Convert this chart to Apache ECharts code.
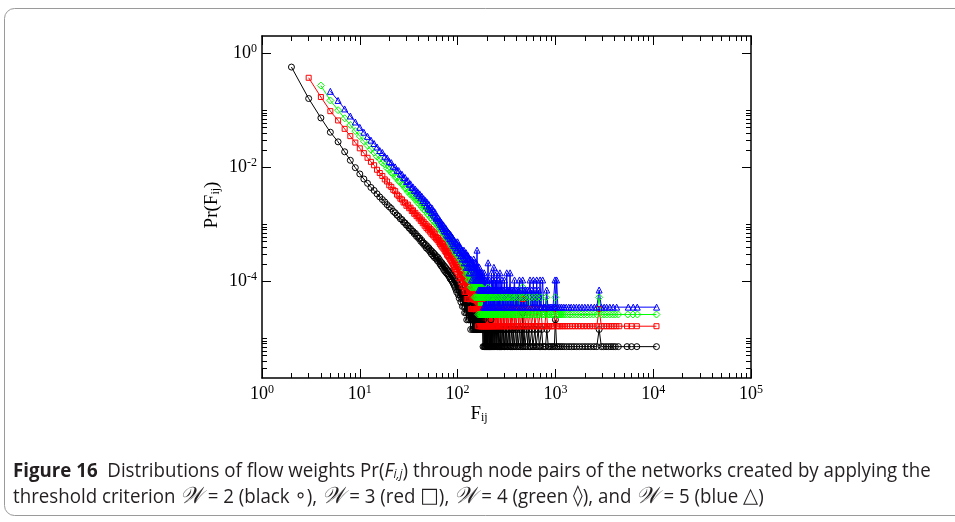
<!DOCTYPE html>
<html><head><meta charset="utf-8">
<script src="https://cdn.jsdelivr.net/npm/echarts@6/dist/echarts.min.js"></script>
<style>html,body{margin:0;padding:0;background:#fff}#c{width:955px;height:522px}</style>
</head><body><div id="c"></div>
<script>
// ---------- data ----------
const xMajorTicks = [1, 10, 100, 1000, 10000, 100000];
const yMajorTicks = [1e-4, 1e-2, 1];
const xMinorTicks = [2,3,4,5,6,7,8,9,20,30,40,50,60,70,80,90,200,300,400,500,600,700,800,900,2000,3000,4000,5000,6000,7000,8000,9000,20000,30000,40000,50000,60000,70000,80000,90000];
const yMinorTicks = [3e-6,4e-6,5e-6,6e-6,7e-6,8e-6,9e-6,1e-5,2e-4,3e-4,4e-4,5e-4,6e-4,7e-4,8e-4,9e-4,1e-3,2e-2,3e-2,4e-2,5e-2,6e-2,7e-2,8e-2,9e-2,1e-1];

// W = 2 (black), first F = 2
const blackStart = 2;
const blackHead = [0.57,0.16,0.073,0.041,0.0278,0.0186,0.0132,0.0098,0.0076,0.0062,0.0052,0.0044,0.0039,0.0034,0.003,0.0027,0.00245,0.0022,0.00202,0.00188,0.00168,0.00158,0.00144,0.00137,0.00124,0.0012,0.00109,0.00105,0.00096,0.00094,0.00085,0.00084,0.00076,0.00075,0.00068,0.00069,0.00061,0.00062,0.00056,0.00057,0.0005,0.00052,0.00046,0.00047,0.00042,0.00044,0.00038,0.00041,0.00036,0.00038,0.00033,0.00035,0.0003,0.00033,0.00028,0.00031,0.00026,0.00029,0.00025];
const blackTail = [[61,2.7e-4],[62,2.3e-4],[63,2.6e-4],[64,2.2e-4],[65,2.4e-4],[66,2.0e-4],[67,2.2e-4],[68,1.85e-4],[69,2.1e-4],[70,1.75e-4],[71,1.95e-4],[72,1.6e-4],[73,1.85e-4],[74,1.5e-4],[75,1.75e-4],[76,1.42e-4],[77,1.65e-4],[78,1.35e-4],[79,1.55e-4],[80,1.28e-4],[81,1.5e-4],[82,1.2e-4],[83,1.42e-4],[84,1.1e-4],[85,1.35e-4],[86,1.05e-4],[87,1.28e-4],[88,9.9e-5],[89,1.2e-4],[90,9.2e-5],[91,1.14e-4],[92,8.5e-5],[93,1.1e-4],[94,7.8e-5],[95,1.05e-4],[96,7.1e-5],[97,9.9e-5],[98,6.4e-5],[99,9.2e-5],[100,7.1e-5],[101,9.2e-5],[102,5.7e-5],[103,8.5e-5],[104,5.0e-5],[105,7.8e-5],[106,5.7e-5],[107,7.1e-5],[108,4.3e-5],[109,7.1e-5],[110,5.0e-5],[111,6.4e-5],[112,3.6e-5],[113,6.4e-5],[114,4.3e-5],[115,5.7e-5],[116,3.6e-5],[117,5.7e-5],[118,2.8e-5],[119,5.0e-5],[120,3.6e-5],[121,5.0e-5],[122,2.8e-5],[123,4.3e-5],[124,2.1e-5],[125,4.3e-5],[126,3.6e-5],[127,2.8e-5],[128,4.3e-5],[129,2.1e-5],[130,3.6e-5],[131,2.8e-5],[132,3.6e-5],[133,2.1e-5],[134,3.6e-5],[135,2.8e-5],[136,1.42e-5],[137,3.6e-5],[138,2.1e-5],[139,2.8e-5],[140,2.1e-5],[141,3.6e-5],[142,1.42e-5],[143,2.8e-5],[144,2.1e-5],[145,1.42e-5],[146,2.8e-5],[147,2.1e-5],[148,1.42e-5],[149,2.8e-5],[150,2.1e-5],[151,1.42e-5],[152,2.8e-5],[153,1.42e-5],[154,2.1e-5],[155,1.42e-5],[156,2.1e-5],[157,1.42e-5],[158,2.8e-5],[159,1.42e-5],[160,2.1e-5],[161,1.42e-5],[162,2.1e-5],[163,1.42e-5],[165,2.1e-5],[166,1.42e-5],[167,2.1e-5],[168,1.42e-5],[170,2.1e-5],[171,1.42e-5],[173,1.42e-5],[174,2.1e-5],[175,1.42e-5],[177,1.42e-5],[178,2.1e-5],[180,1.42e-5],[182,7.1e-6],[183,1.42e-5],[185,2.1e-5],[186,7.1e-6],[188,1.42e-5],[189,7.1e-6],[191,1.42e-5],[192,7.1e-6],
[194,1.42e-5],[195,7.1e-6],[197,1.42e-5],[198,7.1e-6],[200,1.42e-5],[201,7.1e-6],[203,1.42e-5],[204,7.1e-6],[206,7.1e-6],[207,1.42e-5],[209,7.1e-6],[211,1.42e-5],[212,7.1e-6],[214,7.1e-6],[216,1.42e-5],[217,7.1e-6],[219,2.1e-5],[221,7.1e-6],[223,1.42e-5],[225,7.1e-6],[227,1.42e-5],[229,7.1e-6],[231,7.1e-6],[233,1.42e-5],[235,7.1e-6],[238,1.42e-5],[240,7.1e-6],[242,7.1e-6],[245,1.42e-5],[247,7.1e-6],[250,1.42e-5],[252,7.1e-6],[255,7.1e-6],[257,1.42e-5],[260,7.1e-6],[263,1.42e-5],[266,7.1e-6],[269,7.1e-6],[272,1.42e-5],[275,7.1e-6],[278,1.42e-5],[281,7.1e-6],[285,7.1e-6],[288,1.42e-5],[292,7.1e-6],[296,1.42e-5],[300,7.1e-6],[304,7.1e-6],[308,1.42e-5],[312,7.1e-6],[316,1.42e-5],[321,7.1e-6],[326,7.1e-6],[331,1.42e-5],[336,7.1e-6],[341,1.42e-5],[347,7.1e-6],[353,7.1e-6],[359,1.42e-5],[365,7.1e-6],[371,1.42e-5],[378,7.1e-6],[385,7.1e-6],[392,1.42e-5],[399,7.1e-6],[407,1.42e-5],[415,7.1e-6],[423,7.1e-6],[431,1.42e-5],[440,7.1e-6],[449,1.42e-5],[458,7.1e-6],[463,2.8e-5],[468,7.1e-6],[478,1.42e-5],[488,7.1e-6],[499,7.1e-6],[510,1.42e-5],[522,7.1e-6],[534,1.42e-5],[547,7.1e-6],[560,7.1e-6],[574,1.42e-5],[588,7.1e-6],[603,7.1e-6],[618,1.42e-5],[634,7.1e-6],[650,7.1e-6],[667,1.42e-5],[685,7.1e-6],[704,7.1e-6],[724,1.42e-5],[745,7.1e-6],[768,7.1e-6],[792,7.1e-6],[818,1.42e-5],[846,7.1e-6],[876,7.1e-6],[908,7.1e-6],[942,7.1e-6],[975,7.1e-6],[1000,2.1e-5],[1030,7.1e-6],[1070,7.1e-6],[1120,7.1e-6],[1170,7.1e-6],[1230,7.1e-6],[1300,7.1e-6],[1380,7.1e-6],[1460,7.1e-6],[1550,7.1e-6],[1650,7.1e-6],[1760,7.1e-6],[1880,7.1e-6],[2010,7.1e-6],[2150,7.1e-6],[2300,7.1e-6],[2480,7.1e-6],[2650,7.1e-6],[2800,1.42e-5],[2950,7.1e-6],[3100,7.1e-6],[3300,7.1e-6],[3500,7.1e-6],[3700,7.1e-6],[3900,7.1e-6],[4100,7.1e-6],[4400,7.1e-6],[5400,7.1e-6],[6000,7.1e-6],[6800,7.1e-6],[10800,7.1e-6]];

// W = 3 (red), first F = 3
const redStart = 3;
const redHead = [0.37,0.17,0.096,0.066,0.047,0.035,0.027,0.0214,0.0176,0.0146,0.0124,0.0108,0.009,0.0079,0.007,0.0061,0.0056,0.0048,0.0045,0.004,0.0038,0.0033,0.0031,0.0028,0.0027,0.0024,0.0024,0.0021,0.0022,0.0019,0.00195,0.0017,0.00175,0.00152,0.00158,0.00138,0.00143,0.00126,0.00132,0.00114,0.0012,0.00104,0.0011,0.00094,0.00101,0.00086,0.00094,0.0008,0.00088,0.00074,0.00082,0.00068,0.00077,0.00064,0.00072,0.0006,0.00068,0.00056];
const redTail = [[61,5.9e-4],[62,5.3e-4],[63,5.7e-4],[64,4.9e-4],[65,5.3e-4],[66,4.5e-4],[67,5.0e-4],[68,4.2e-4],[69,4.7e-4],[70,3.9e-4],[71,4.5e-4],[72,3.7e-4],[73,4.1e-4],[74,3.4e-4],[75,3.9e-4],[76,3.2e-4],[77,3.6e-4],[78,2.9e-4],[79,3.4e-4],[80,2.75e-4],[81,3.3e-4],[82,2.6e-4],[83,3.1e-4],[84,2.4e-4],[85,2.9e-4],[86,2.27e-4],[87,2.75e-4],[88,2.1e-4],[89,2.6e-4],[90,1.94e-4],[91,2.43e-4],[92,1.78e-4],[93,2.27e-4],[94,1.62e-4],[95,2.1e-4],[96,1.62e-4],[97,1.94e-4],[98,1.46e-4],[99,1.94e-4],[100,1.62e-4],[101,1.78e-4],[102,1.3e-4],[103,1.78e-4],[104,1.13e-4],[105,1.62e-4],[106,1.3e-4],[107,1.46e-4],[108,9.72e-5],[109,1.46e-4],[110,1.13e-4],[111,1.3e-4],[112,8.1e-5],[113,1.3e-4],[114,9.72e-5],[115,1.13e-4],[116,8.1e-5],[117,1.13e-4],[118,6.48e-5],[119,1.13e-4],[120,8.1e-5],[121,9.72e-5],[122,6.48e-5],[123,9.72e-5],[124,4.86e-5],[125,9.72e-5],[126,6.48e-5],[127,8.1e-5],[128,4.86e-5],[129,8.1e-5],[130,6.48e-5],[131,8.1e-5],[132,4.86e-5],[133,6.48e-5],[134,8.1e-5],[135,4.86e-5],[136,6.48e-5],[137,3.24e-5],[138,6.48e-5],[139,4.86e-5],[140,6.48e-5],[141,3.24e-5],[142,6.48e-5],[143,4.86e-5],[144,3.24e-5],[145,6.48e-5],[146,4.86e-5],[147,3.24e-5],[148,4.86e-5],[149,6.48e-5],[150,3.24e-5],[151,4.86e-5],[152,3.24e-5],[153,4.86e-5],[154,3.24e-5],[155,6.48e-5],[156,3.24e-5],[157,4.86e-5],[158,3.24e-5],[159,4.86e-5],[160,3.24e-5],[161,4.86e-5],[162,1.62e-5],[163,4.86e-5],[164,3.24e-5],[165,4.86e-5],[166,3.24e-5],[167,1.62e-5],[168,3.24e-5],[169,4.86e-5],[170,3.24e-5],[171,1.62e-5],[172,3.24e-5],[173,4.86e-5],[174,1.62e-5],[175,3.24e-5],[176,1.62e-5],[177,3.24e-5],[178,1.62e-5],[179,3.24e-5],[180,4.86e-5],[181,1.62e-5],[182,3.24e-5],[183,1.62e-5],[184,3.24e-5],[185,1.62e-5],
[187,3.24e-5],[188,1.62e-5],[190,3.24e-5],[191,1.62e-5],[193,1.62e-5],[194,3.24e-5],[196,1.62e-5],[197,3.24e-5],[199,1.62e-5],[201,3.24e-5],[202,1.62e-5],[204,1.62e-5],[205,3.24e-5],[207,1.62e-5],[209,3.24e-5],[211,1.62e-5],[213,1.62e-5],[215,3.24e-5],[217,1.62e-5],[219,3.24e-5],[221,1.62e-5],[224,1.62e-5],[226,3.24e-5],[228,1.62e-5],[231,3.24e-5],[233,1.62e-5],[236,1.62e-5],[238,3.24e-5],[241,1.62e-5],[244,3.24e-5],[247,1.62e-5],[250,1.62e-5],[253,3.24e-5],[256,1.62e-5],[259,3.24e-5],[262,1.62e-5],[266,1.62e-5],[269,3.24e-5],[273,1.62e-5],[277,3.24e-5],[281,1.62e-5],[285,1.62e-5],[289,3.24e-5],[293,1.62e-5],[298,3.24e-5],[302,1.62e-5],[307,1.62e-5],[312,3.24e-5],[317,1.62e-5],[322,3.24e-5],[328,1.62e-5],[334,1.62e-5],[340,3.24e-5],[346,1.62e-5],[352,3.24e-5],[359,1.62e-5],[366,1.62e-5],[373,3.24e-5],[380,1.62e-5],[388,3.24e-5],[396,1.62e-5],[404,1.62e-5],[412,3.24e-5],[421,1.62e-5],[430,3.24e-5],[439,1.62e-5],[449,1.62e-5],[459,3.24e-5],[463,4.86e-5],[470,1.62e-5],[481,3.24e-5],[492,1.62e-5],[504,1.62e-5],[516,3.24e-5],[528,1.62e-5],[541,1.62e-5],[555,3.24e-5],[569,1.62e-5],[584,1.62e-5],[600,3.24e-5],[616,1.62e-5],[633,1.62e-5],[651,3.24e-5],[670,1.62e-5],[690,1.62e-5],[711,3.24e-5],[733,1.62e-5],[756,1.62e-5],[780,1.62e-5],[806,3.24e-5],[833,1.62e-5],[862,1.62e-5],[893,1.62e-5],[926,1.62e-5],[960,1.62e-5],[1000,3.24e-5],[1040,1.62e-5],[1080,1.62e-5],[1130,1.62e-5],[1190,1.62e-5],[1250,1.62e-5],[1320,1.62e-5],[1400,1.62e-5],[1490,1.62e-5],[1590,1.62e-5],[1700,1.62e-5],[1820,1.62e-5],[1950,1.62e-5],[2100,1.62e-5],[2260,1.62e-5],[2440,1.62e-5],[2650,1.62e-5],[2800,3.24e-5],[2950,1.62e-5],[3150,1.62e-5],[3350,1.62e-5],[3550,1.62e-5],[3750,1.62e-5],[3950,1.62e-5],[4200,1.62e-5],[4500,1.62e-5],[5400,1.62e-5],[6000,1.62e-5],[6800,1.62e-5],[10800,1.62e-5]];

// W = 4 (green), first F = 4
const greenStart = 4;
const greenHead = [0.27,0.148,0.1,0.072,0.055,0.043,0.035,0.0285,0.024,0.0203,0.018,0.0153,0.014,0.012,0.0112,0.0096,0.0091,0.008,0.0077,0.0067,0.0065,0.0057,0.0056,0.005,0.0049,0.0043,0.0042,0.0037,0.0038,0.0033,0.0034,0.003,0.0031,0.0027,0.0028,0.0024,0.0026,0.0022,0.0024,0.002,0.0022,0.0018,0.002,0.0017,0.0019,0.0015,0.0017,0.00145,0.0016,0.0013,0.0015,0.0012,0.0014,0.00112,0.0013,0.00104,0.0012];
const greenTail = [[61,1.0e-3],[62,1.1e-3],[63,9.2e-4],[64,1.0e-3],[65,8.6e-4],[66,9.5e-4],[67,8.0e-4],[68,8.9e-4],[69,7.4e-4],[70,8.4e-4],[71,7.0e-4],[72,7.9e-4],[73,6.5e-4],[74,7.4e-4],[75,6.1e-4],[76,7.0e-4],[77,5.7e-4],[78,6.6e-4],[79,5.4e-4],[80,6.2e-4],[81,5.2e-4],[82,5.8e-4],[83,4.7e-4],[84,5.5e-4],[85,4.4e-4],[86,5.2e-4],[87,4.16e-4],[88,4.94e-4],[89,3.9e-4],[90,4.68e-4],[91,3.64e-4],[92,4.42e-4],[93,3.38e-4],[94,4.16e-4],[95,3.12e-4],[96,3.9e-4],[97,3.12e-4],[98,3.64e-4],[99,2.86e-4],[100,3.9e-4],[101,3.12e-4],[102,3.64e-4],[103,2.6e-4],[104,3.38e-4],[105,2.6e-4],[106,3.12e-4],[107,2.34e-4],[108,3.12e-4],[109,2.34e-4],[110,2.86e-4],[111,2.08e-4],[112,2.86e-4],[113,2.08e-4],[114,2.6e-4],[115,1.82e-4],[116,2.6e-4],[117,1.82e-4],[118,2.34e-4],[119,1.56e-4],[120,2.34e-4],[121,1.82e-4],[122,2.08e-4],[123,1.3e-4],[124,2.08e-4],[125,1.56e-4],[126,1.82e-4],[127,1.3e-4],[128,1.82e-4],[129,1.04e-4],[130,1.56e-4],[131,1.3e-4],[132,1.82e-4],[133,1.04e-4],[134,1.56e-4],[135,1.3e-4],[136,7.8e-5],[137,1.56e-4],[138,1.04e-4],[139,1.3e-4],[140,7.8e-5],[141,1.3e-4],[142,1.04e-4],[143,1.3e-4],[144,7.8e-5],[145,1.04e-4],[146,1.3e-4],[147,7.8e-5],[148,1.04e-4],[149,5.2e-5],[150,1.04e-4],[151,7.8e-5],[152,1.04e-4],[153,5.2e-5],[154,7.8e-5],[155,1.04e-4],[156,5.2e-5],[157,7.8e-5],[158,1.04e-4],[159,5.2e-5],[160,7.8e-5],[161,5.2e-5],[162,7.8e-5],[163,2.6e-5],[164,7.8e-5],[165,5.2e-5],[166,7.8e-5],[167,5.2e-5],[168,2.6e-5],[169,7.8e-5],[170,5.2e-5],[171,2.6e-5],[172,5.2e-5],[173,7.8e-5],[174,2.6e-5],[175,5.2e-5],[176,2.6e-5],[177,5.2e-5],[178,7.8e-5],[179,2.6e-5],[180,5.2e-5],
[182,2.6e-5],[183,5.2e-5],[185,2.6e-5],[186,5.2e-5],[188,2.6e-5],[189,5.2e-5],[191,2.6e-5],[193,5.2e-5],[194,2.6e-5],[196,2.6e-5],[197,5.2e-5],[199,2.6e-5],[201,5.2e-5],[203,2.6e-5],[205,7.8e-5],[207,2.6e-5],[209,5.2e-5],[211,2.6e-5],[213,2.6e-5],[215,5.2e-5],[217,2.6e-5],[220,5.2e-5],[222,2.6e-5],[225,2.6e-5],[227,5.2e-5],[230,2.6e-5],[232,5.2e-5],[235,2.6e-5],[238,2.6e-5],[241,5.2e-5],[244,2.6e-5],[247,5.2e-5],[250,2.6e-5],[253,2.6e-5],[256,5.2e-5],[260,2.6e-5],[263,5.2e-5],[267,2.6e-5],[271,2.6e-5],[275,5.2e-5],[279,2.6e-5],[283,5.2e-5],[287,2.6e-5],[292,2.6e-5],[296,5.2e-5],[301,2.6e-5],[306,5.2e-5],[311,2.6e-5],[316,2.6e-5],[321,5.2e-5],[327,2.6e-5],[333,5.2e-5],[339,2.6e-5],[345,2.6e-5],[351,5.2e-5],[358,2.6e-5],[365,5.2e-5],[372,2.6e-5],[379,2.6e-5],[387,5.2e-5],[395,2.6e-5],[403,2.6e-5],[411,5.2e-5],[420,2.6e-5],[429,5.2e-5],[438,2.6e-5],[448,2.6e-5],[458,5.2e-5],[463,7.8e-5],[469,2.6e-5],[480,5.2e-5],[491,2.6e-5],[503,2.6e-5],[515,5.2e-5],[527,2.6e-5],[540,2.6e-5],[554,5.2e-5],[568,2.6e-5],[583,2.6e-5],[598,5.2e-5],[614,2.6e-5],[631,2.6e-5],[649,5.2e-5],[668,2.6e-5],[688,2.6e-5],[709,5.2e-5],[731,2.6e-5],[754,2.6e-5],[778,2.6e-5],[804,5.2e-5],[831,2.6e-5],[860,2.6e-5],[891,2.6e-5],[924,2.6e-5],[960,2.6e-5],[1000,5.2e-5],[1040,2.6e-5],[1090,2.6e-5],[1140,2.6e-5],[1200,2.6e-5],[1260,2.6e-5],[1330,2.6e-5],[1410,2.6e-5],[1500,2.6e-5],[1600,2.6e-5],[1710,2.6e-5],[1830,2.6e-5],[1960,2.6e-5],[2110,2.6e-5],[2270,2.6e-5],[2450,2.6e-5],[2650,2.6e-5],[2800,5.2e-5],[2950,2.6e-5],[3150,2.6e-5],[3350,2.6e-5],[3600,2.6e-5],[3850,2.6e-5],[4100,2.6e-5],[4400,2.6e-5],[5500,2.6e-5],[6200,2.6e-5],[6900,2.6e-5],[10800,2.6e-5]];

// W = 5 (blue), first F = 5
const blueStart = 5;
const blueHead = [0.214,0.148,0.105,0.079,0.062,0.05,0.041,0.0347,0.0298,0.026,0.0226,0.0196,0.0181,0.0155,0.0145,0.0126,0.012,0.0104,0.0101,0.0088,0.0087,0.0076,0.0075,0.0065,0.0066,0.0056,0.0058,0.005,0.0051,0.0044,0.0045,0.0039,0.0041,0.0035,0.0037,0.0032,0.0034,0.0029,0.0031,0.0026,0.0028,0.0024,0.0026,0.0021,0.0024,0.0019,0.0022,0.0018,0.002,0.0016,0.0019,0.0015,0.0017,0.0014,0.0016,0.0013];
const blueTail = [[61,1.24e-3],[62,1.36e-3],[63,1.15e-3],[64,1.26e-3],[65,1.05e-3],[66,1.16e-3],[67,9.8e-4],[68,1.08e-3],[69,9.1e-4],[70,1.01e-3],[71,8.4e-4],[72,9.5e-4],[73,7.7e-4],[74,8.8e-4],[75,7.35e-4],[76,8.4e-4],[77,6.65e-4],[78,7.7e-4],[79,6.3e-4],[80,7.35e-4],[81,5.95e-4],[82,7.0e-4],[83,5.6e-4],[84,6.65e-4],[85,5.25e-4],[86,6.3e-4],[87,4.9e-4],[88,5.95e-4],[89,4.55e-4],[90,5.6e-4],[91,4.2e-4],[92,5.25e-4],[93,4.2e-4],[94,4.9e-4],[95,3.85e-4],[96,4.9e-4],[97,3.5e-4],[98,4.55e-4],[99,3.5e-4],[100,4.9e-4],[101,3.85e-4],[102,4.2e-4],[103,3.15e-4],[104,4.2e-4],[105,3.15e-4],[106,3.85e-4],[107,2.8e-4],[108,3.85e-4],[109,2.8e-4],[110,3.5e-4],[111,2.45e-4],[112,3.5e-4],[113,2.8e-4],[114,3.15e-4],[115,2.45e-4],[116,3.5e-4],[117,2.1e-4],[118,3.15e-4],[119,2.45e-4],[120,2.8e-4],[121,2.1e-4],[122,3.15e-4],[123,1.75e-4],[124,2.8e-4],[125,2.1e-4],[126,2.45e-4],[127,1.75e-4],[128,2.8e-4],[129,1.75e-4],[130,2.45e-4],[131,1.4e-4],[132,2.45e-4],[133,1.75e-4],[134,2.1e-4],[135,1.4e-4],[136,2.45e-4],[137,1.75e-4],[138,2.1e-4],[139,1.05e-4],[140,2.1e-4],[141,1.75e-4],[142,1.4e-4],[143,2.1e-4],[144,1.05e-4],[145,1.75e-4],[146,2.45e-4],[147,1.4e-4],[148,1.75e-4],[149,1.05e-4],[150,2.1e-4],[151,1.4e-4],[152,1.75e-4],[153,1.05e-4],[154,1.4e-4],[155,2.1e-4],[156,1.05e-4],[157,1.75e-4],[158,3.5e-4],[159,1.05e-4],[160,1.4e-4],[161,1.75e-4],[162,1.05e-4],[163,1.4e-4],[164,7e-5],[165,1.4e-4],[166,1.05e-4],[167,1.75e-4],[168,7e-5],[169,1.4e-4],[170,1.05e-4],[171,7e-5],[172,1.4e-4],[173,1.05e-4],[174,7e-5],[175,1.4e-4],[176,1.05e-4],[177,7e-5],[178,1.05e-4],[179,1.4e-4],[180,7e-5],[181,1.05e-4],[182,7e-5],[183,1.05e-4],[184,3.5e-5],[185,1.05e-4],[186,7e-5],[187,1.4e-4],[188,7e-5],[189,3.5e-5],[190,1.05e-4],
[192,7e-5],[193,3.5e-5],[195,1.05e-4],[196,3.5e-5],[198,7e-5],[199,3.5e-5],[201,7e-5],[203,1.05e-4],[205,2.1e-4],[206,3.5e-5],[208,7e-5],[210,3.5e-5],[212,1.05e-4],[214,7e-5],[216,3.5e-5],[218,7e-5],[220,3.5e-5],[222,1.4e-4],[224,7e-5],[226,3.5e-5],[228,1.05e-4],[230,7e-5],[232,3.5e-5],[235,1.75e-4],[237,7e-5],[239,3.5e-5],[242,7e-5],[244,1.05e-4],[247,3.5e-5],[249,7e-5],[252,1.4e-4],[254,3.5e-5],[257,7e-5],[260,1.05e-4],[262,3.5e-5],[265,7e-5],[268,3.5e-5],[271,1.4e-4],[274,7e-5],[277,3.5e-5],[280,7e-5],[284,1.05e-4],[287,3.5e-5],[290,7e-5],[294,3.5e-5],[298,7e-5],[301,1.05e-4],[305,3.5e-5],[309,7e-5],[313,3.5e-5],[318,1.4e-4],[322,7e-5],[326,3.5e-5],[331,7e-5],[336,3.5e-5],[340,7e-5],[344,1.4e-4],[349,3.5e-5],[354,7e-5],[360,3.5e-5],[365,7e-5],[371,3.5e-5],[376,7e-5],[382,1.05e-4],[388,3.5e-5],[394,7e-5],[401,3.5e-5],[408,7e-5],[415,3.5e-5],[422,7e-5],[429,1.05e-4],[437,3.5e-5],[445,7e-5],[453,3.5e-5],[463,1.05e-4],[470,3.5e-5],[479,7e-5],[488,3.5e-5],[497,7e-5],[507,3.5e-5],[517,7e-5],[528,3.5e-5],[539,7e-5],[550,1.05e-4],[562,3.5e-5],[574,7e-5],[586,3.5e-5],[595,1.05e-4],[605,3.5e-5],[619,7e-5],[633,3.5e-5],[644,1.05e-4],[655,3.5e-5],[670,7e-5],[685,3.5e-5],[697,1.05e-4],[710,3.5e-5],[725,3.5e-5],[741,1.05e-4],[757,3.5e-5],[775,3.5e-5],[795,3.5e-5],[815,7e-5],[838,3.5e-5],[862,3.5e-5],[888,3.5e-5],[915,3.5e-5],[945,3.5e-5],[975,3.5e-5],[991,1.05e-4],[1010,3.5e-5],[1030,1.05e-4],[1060,3.5e-5],[1110,3.5e-5],[1160,3.5e-5],[1220,3.5e-5],[1290,3.5e-5],[1370,3.5e-5],[1450,3.5e-5],[1540,3.5e-5],[1640,3.5e-5],[1750,3.5e-5],[1870,3.5e-5],[2000,3.5e-5],[2150,3.5e-5],[2320,3.5e-5],[2500,3.5e-5],[2650,3.5e-5],[2800,7e-5],[2950,3.5e-5],[3150,3.5e-5],[3340,3.5e-5],[3600,3.5e-5],[3900,3.5e-5],[4230,3.5e-5],[5560,3.5e-5],[6250,3.5e-5],[6870,3.5e-5],[10830,3.5e-5]];

// ---------- chart ----------
function build(start, head, tail) { return head.map((v, i) => [start + i, v]).concat(tail); }
const serifFont = 'Liberation Serif';
const richLabel = {
  b: { fontFamily: serifFont, fontSize: 18, color: '#000', lineHeight: 20 },
  s: { fontFamily: serifFont, fontSize: 12, color: '#000', verticalAlign: 'top', lineHeight: 12 }
};
function powLabel(v) { const e = Math.round(Math.log10(v)); return '{b|10}{s|' + e + '}'; }

const frameLine = { show: true, onZero: false, lineStyle: { color: '#000', width: 1.5 } };
const noLine = { show: false, onZero: false };
function xAxisDef(pos, ticks, len, showLine, labels) {
  return {
    type: 'log', logBase: 10, min: 1, max: 100000, position: pos,
    axisLine: showLine ? frameLine : noLine,
    axisTick: { show: true, inside: true, length: len, customValues: ticks, lineStyle: { color: '#000', width: 1 } },
    axisLabel: labels ? { show: true, customValues: ticks, margin: 6, formatter: powLabel, rich: richLabel } : { show: false },
    splitLine: { show: false }, minorTick: { show: false }, minorSplitLine: { show: false }
  };
}
function yAxisDef(pos, ticks, len, showLine, labels) {
  return {
    type: 'log', logBase: 10, min: 2e-6, max: 2, position: pos,
    axisLine: showLine ? frameLine : noLine,
    axisTick: { show: true, inside: true, length: len, customValues: ticks, lineStyle: { color: '#000', width: 1 } },
    axisLabel: labels ? { show: true, customValues: ticks, margin: 5, formatter: powLabel, rich: richLabel } : { show: false },
    splitLine: { show: false }, minorTick: { show: false }, minorSplitLine: { show: false }
  };
}
function seriesDef(name, data, color, symbol, size) {
  return {
    name, type: 'line', data, xAxisIndex: 0, yAxisIndex: 0,
    symbol, symbolSize: size, showSymbol: true, showAllSymbol: true,
    lineStyle: { color, width: 1 },
    itemStyle: { color: 'rgba(255,255,255,0)', borderColor: color, borderWidth: 1 },
    emphasis: { disabled: true }, silent: true, animation: false, z: 2
  };
}

const cap1 = '{b|Figure 16}  Distributions of flow weights Pr({i|F}{si|i,j}) through node pairs of the networks created by applying the';
const cap2 = 'threshold criterion {w|𝒲} = 2 (black {y|∘}), {w|𝒲} = 3 (red {y|□}), {w|𝒲} = 4 (green {y|◊}), and {w|𝒲} = 5 (blue {y|△})';
const capFont = 20;
const capRich = {
  b: { fontFamily: 'Open Sans', fontWeight: 'bold', fontSize: capFont, fill: '#231f20' },
  i: { fontFamily: 'Open Sans', fontStyle: 'italic', fontSize: capFont, fill: '#231f20' },
  si: { fontFamily: 'Open Sans', fontStyle: 'italic', fontSize: 13, fill: '#231f20', verticalAlign: 'bottom', lineHeight: 13 },
  w: { fontFamily: 'DejaVu Serif', fontStyle: 'italic', fontSize: 23, fill: '#231f20' },
  y: { fontFamily: 'DejaVu Sans', fontSize: 21, fill: '#231f20' }
};

const chart = echarts.init(document.getElementById('c'), null, { renderer: 'canvas' });
chart.setOption({
  animation: false,
  backgroundColor: '#fff',
  grid: { left: 262, top: 36, width: 489, height: 342, containLabel: false },
  xAxis: [
    xAxisDef('bottom', xMajorTicks, 9, true, true),
    xAxisDef('bottom', xMinorTicks, 5, false, false),
    xAxisDef('top', xMajorTicks, 9, true, false),
    xAxisDef('top', xMinorTicks, 5, false, false)
  ],
  yAxis: [
    yAxisDef('left', yMajorTicks, 9, true, true),
    yAxisDef('left', yMinorTicks, 5, false, false),
    yAxisDef('right', yMajorTicks, 9, true, false),
    yAxisDef('right', yMinorTicks, 5, false, false)
  ],
  series: [
    seriesDef('W=2', build(blackStart, blackHead, blackTail), '#000000', 'circle', 6),
    seriesDef('W=3', build(redStart, redHead, redTail), '#ff0000', 'rect', 5),
    seriesDef('W=4', build(greenStart, greenHead, greenTail), '#00ff00', 'diamond', 7),
    seriesDef('W=5', build(blueStart, blueHead, blueTail), '#0000ff', 'triangle', 6)
  ],
  graphic: [
    { type: 'rect', silent: true, shape: { x: 4.5, y: 8.5, width: 990, height: 507, r: 10 }, style: { fill: 'none', stroke: '#9a9a9a', lineWidth: 1 } },
    { type: 'text', silent: true, x: 479, y: 414, style: { text: '{m|F}{s|ij}', align: 'center', verticalAlign: 'middle',
      rich: { m: { fontFamily: serifFont, fontSize: 19, fill: '#000' }, s: { fontFamily: serifFont, fontSize: 12, fill: '#000', verticalAlign: 'bottom', lineHeight: 10 } } } },
    { type: 'text', silent: true, x: 212, y: 205, rotation: Math.PI / 2, style: { text: 'Pr(F{s|ij})', align: 'center', verticalAlign: 'middle',
      fontFamily: serifFont, fontSize: 19, fill: '#000',
      rich: { s: { fontFamily: serifFont, fontSize: 12, fill: '#000', verticalAlign: 'bottom', lineHeight: 10 } } } },
    { type: 'text', silent: true, x: 13, y: 471, scaleX: 0.935, style: { text: cap1, verticalAlign: 'middle', fontFamily: 'Open Sans', fontSize: capFont, fill: '#231f20', rich: capRich } },
    { type: 'text', silent: true, x: 13, y: 497, scaleX: 0.935, style: { text: cap2, verticalAlign: 'middle', fontFamily: 'Open Sans', fontSize: capFont, fill: '#231f20', rich: capRich } }
  ]
});
</script></body></html>
